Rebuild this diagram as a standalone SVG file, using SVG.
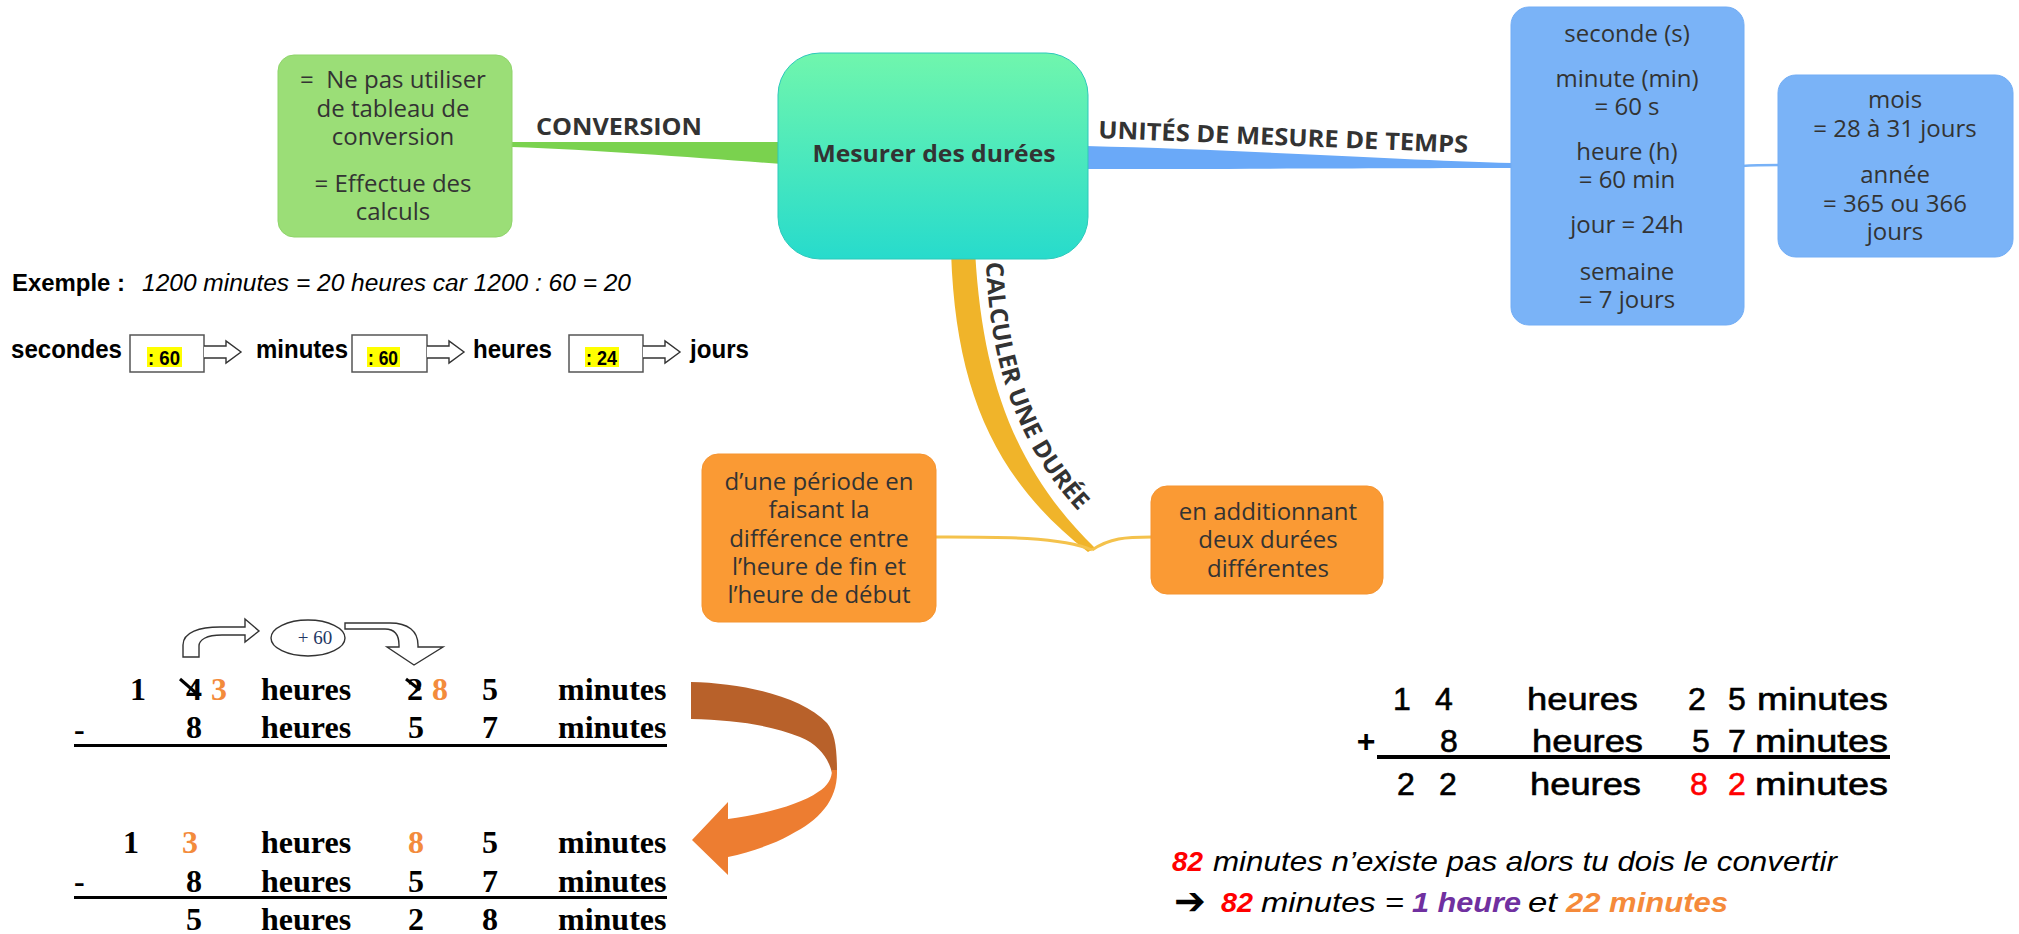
<svg xmlns="http://www.w3.org/2000/svg" width="2019" height="934" viewBox="0 0 2019 934">
<defs>
<linearGradient id="gCentral" x1="0" y1="0" x2="0" y2="1">
<stop offset="0" stop-color="#70f6ad"/>
<stop offset="1" stop-color="#27dbcc"/>
</linearGradient>
<style>
.node{font-family:"Open Sans","DejaVu Sans",sans-serif;font-size:24px;fill:#333;text-anchor:middle}
.lbl{font-family:"Open Sans","DejaVu Sans",sans-serif;font-weight:bold;fill:#333}
.ar{font-family:"Liberation Sans",Arial,sans-serif}
.arb{font-family:"Liberation Sans",Arial,sans-serif;font-weight:bold}
.add{stroke:#000;stroke-width:0.6}
.add.red{stroke:#ff0000}
.tm{font-family:"Liberation Serif","Times New Roman",serif;font-weight:bold;font-size:32px}
.mid{text-anchor:middle}
.or{fill:#f38b3c}
.red{fill:#ff0000}
.pur{fill:#7030a0}
.ora{fill:#f58a3a}
.box{fill:#fff;stroke:#555;stroke-width:1.5}
.hl{fill:#ffff00}
.outl{fill:#fff;stroke:#333;stroke-width:1.4}
.it{font-family:"Liberation Sans",Arial,sans-serif;font-style:italic;font-size:28px}
</style>
</defs>
<rect width="2019" height="934" fill="#fff"/>

<g id="connectors">
<path d="M512,142 C600,142 700,142 782,142 L782,164 C700,158 600,150 512,147 Z" fill="#7ad24e"/>
<path d="M1086,146 C1250,150 1400,160 1512,163 L1512,168 C1400,168 1250,169 1086,169 Z" fill="#6aa9f8"/>
<path d="M1742,166 C1755,165 1765,165 1780,165" fill="none" stroke="#78b2f7" stroke-width="2.5"/>
<path d="M951,250 C955,390 995,480 1088,552 L1095,548 C1015,470 982,380 975,250 Z" fill="#f0b42a"/>
<path d="M1092,550 C1060,536 990,537 934,537" fill="none" stroke="#f4c24c" stroke-width="3"/>
<path d="M1092,550 C1110,538 1125,537 1152,537" fill="none" stroke="#f4c24c" stroke-width="3"/>
<text class="lbl" x="536" y="135" font-size="24" textLength="166" lengthAdjust="spacingAndGlyphs">CONVERSION</text>
<text class="lbl" x="1098" y="138" font-size="24" transform="rotate(2.3 1098 138)" textLength="370" lengthAdjust="spacingAndGlyphs">UNITÉS DE MESURE DE TEMPS</text>
<path id="pCalc" d="M986,262 C990,370 1020,450 1082,515" fill="none"/>
<text class="lbl" font-size="24"><textPath href="#pCalc" textLength="272" lengthAdjust="spacingAndGlyphs">CALCULER UNE DURÉE</textPath></text>
</g>

<g id="n-central">
<rect x="778" y="53" width="310" height="206" rx="42" fill="url(#gCentral)" stroke="#2cc9bb" stroke-width="1"/>
<text class="node" x="934" y="162" font-weight="bold" textLength="243" lengthAdjust="spacingAndGlyphs">Mesurer des durées</text>
</g>

<g id="n-conversion">
<rect x="278" y="55" width="234" height="182" rx="16" fill="#9bde77" stroke="#8fd46b" stroke-width="1"/>
<text class="node" x="393" y="88">=&#160; Ne pas utiliser</text>
<text class="node" x="393" y="117">de tableau de</text>
<text class="node" x="393" y="145">conversion</text>
<text class="node" x="393" y="192">= Effectue des</text>
<text class="node" x="393" y="220">calculs</text>
</g>

<g id="n-unites">
<rect x="1511" y="7" width="233" height="318" rx="18" fill="#7ab3f7" stroke="#72adf5" stroke-width="1"/>
<text class="node" x="1627" y="42">seconde (s)</text>
<text class="node" x="1627" y="87">minute (min)</text>
<text class="node" x="1627" y="115">= 60 s</text>
<text class="node" x="1627" y="160">heure (h)</text>
<text class="node" x="1627" y="188">= 60 min</text>
<text class="node" x="1627" y="233">jour = 24h</text>
<text class="node" x="1627" y="280">semaine</text>
<text class="node" x="1627" y="308">= 7 jours</text>
</g>

<g id="n-mois">
<rect x="1778" y="75" width="235" height="182" rx="18" fill="#7ab3f7" stroke="#72adf5" stroke-width="1"/>
<text class="node" x="1895" y="108">mois</text>
<text class="node" x="1895" y="137">= 28 à 31 jours</text>
<text class="node" x="1895" y="183">année</text>
<text class="node" x="1895" y="212">= 365 ou 366</text>
<text class="node" x="1895" y="240">jours</text>
</g>

<g id="n-periode">
<rect x="702" y="454" width="234" height="168" rx="16" fill="#fa9a34" stroke="#f59430" stroke-width="1"/>
<text class="node" x="819" y="490">d’une période en</text>
<text class="node" x="819" y="518">faisant la</text>
<text class="node" x="819" y="547">différence entre</text>
<text class="node" x="819" y="575">l’heure de fin et</text>
<text class="node" x="819" y="603">l’heure de début</text>
</g>

<g id="n-addition">
<rect x="1151" y="486" width="232" height="108" rx="16" fill="#fa9a34" stroke="#f59430" stroke-width="1"/>
<text class="node" x="1268" y="520">en additionnant</text>
<text class="node" x="1268" y="548">deux durées</text>
<text class="node" x="1268" y="577">différentes</text>
</g>

<g id="exemple">
<text class="arb" x="12" y="291" font-size="23" textLength="113" lengthAdjust="spacingAndGlyphs">Exemple :</text>
<text class="ar" x="142" y="291" font-size="23" font-style="italic" textLength="489" lengthAdjust="spacingAndGlyphs">1200 minutes = 20 heures car 1200 : 60 = 20</text>
</g>

<g id="chaine">
<text class="arb" x="11" y="358" font-size="26" textLength="111" lengthAdjust="spacingAndGlyphs">secondes</text>
<rect class="box" x="130" y="335" width="74" height="37"/>
<path class="outl" d="M204,346 H226 V341 L241,352 L226,363 V358 H204"/>
<rect class="hl" x="147" y="347" width="35" height="20"/>
<text class="arb" x="148" y="365" font-size="21" textLength="32" lengthAdjust="spacingAndGlyphs">: 60</text>
<text class="arb" x="256" y="358" font-size="26" textLength="92" lengthAdjust="spacingAndGlyphs">minutes</text>
<rect class="box" x="352" y="335" width="75" height="37"/>
<path class="outl" d="M427,346 H449 V341 L464,352 L449,363 V358 H427"/>
<rect class="hl" x="367" y="347" width="33" height="20"/>
<text class="arb" x="368" y="365" font-size="21" textLength="30" lengthAdjust="spacingAndGlyphs">: 60</text>
<text class="arb" x="473" y="358" font-size="26" textLength="79" lengthAdjust="spacingAndGlyphs">heures</text>
<rect class="box" x="569" y="335" width="74" height="37"/>
<path class="outl" d="M643,346 H665 V341 L680,352 L665,363 V358 H643"/>
<rect class="hl" x="585" y="347" width="34" height="20"/>
<text class="arb" x="586" y="365" font-size="21" textLength="31" lengthAdjust="spacingAndGlyphs">: 24</text>
<text class="arb" x="690" y="358" font-size="26" textLength="59" lengthAdjust="spacingAndGlyphs">jours</text>
</g>

<g id="soustraction">
<path class="outl" d="M183,657 L183,645 C183,632 200,627 220,627 L245,627 L245,619 L259,631 L245,642 L245,635 L222,635 C206,635 199,640 199,646 L199,657 Z"/>
<ellipse cx="308" cy="638" rx="37" ry="18" fill="#fff" stroke="#333" stroke-width="1.4"/>
<text x="315" y="644" font-family="Liberation Serif,serif" font-size="19" fill="#1f3864" text-anchor="middle">+ 60</text>
<path class="outl" d="M345,623 L390,623 C408,623 418,631 418,645 L418,647 L443,647 L414,665 L387,647 L399,647 L399,645 C399,634 394,629 385,629 L345,629 Z"/>

<text class="tm mid" x="138" y="700">1</text>
<text class="tm mid" x="194" y="700">4</text>
<line x1="180" y1="679" x2="196" y2="693" stroke="#000" stroke-width="3"/>
<text class="tm mid or" x="219" y="700">3</text>
<text class="tm" x="261" y="700">heures</text>
<text class="tm mid" x="415" y="700">2</text>
<line x1="406" y1="679" x2="420" y2="690" stroke="#000" stroke-width="3"/>
<text class="tm mid or" x="440" y="700">8</text>
<text class="tm mid" x="490" y="700">5</text>
<text class="tm" x="558" y="700">minutes</text>

<text class="tm" x="74" y="740">-</text>
<text class="tm mid" x="194" y="738">8</text>
<text class="tm" x="261" y="738">heures</text>
<text class="tm mid" x="416" y="738">5</text>
<text class="tm mid" x="490" y="738">7</text>
<text class="tm" x="558" y="738">minutes</text>
<rect x="74" y="744" width="593" height="3" fill="#000"/>

<text class="tm mid" x="131" y="853">1</text>
<text class="tm mid or" x="190" y="853">3</text>
<text class="tm" x="261" y="853">heures</text>
<text class="tm mid or" x="416" y="853">8</text>
<text class="tm mid" x="490" y="853">5</text>
<text class="tm" x="558" y="853">minutes</text>

<text class="tm" x="74" y="892">-</text>
<text class="tm mid" x="194" y="892">8</text>
<text class="tm" x="261" y="892">heures</text>
<text class="tm mid" x="416" y="892">5</text>
<text class="tm mid" x="490" y="892">7</text>
<text class="tm" x="558" y="892">minutes</text>
<rect x="74" y="896" width="593" height="3" fill="#000"/>

<text class="tm mid" x="194" y="930">5</text>
<text class="tm" x="261" y="930">heures</text>
<text class="tm mid" x="416" y="930">2</text>
<text class="tm mid" x="490" y="930">8</text>
<text class="tm" x="558" y="930">minutes</text>

<path d="M691,682 C740,683 800,695 827,723 C835,733 837,748 837,772 L832,773 C829,760 820,745 800,737 C770,725 735,720 691,719 Z" fill="#b8612a"/>
<path d="M837,770 C838,800 820,820 790,835 C772,845 750,852 728,857 L728,875 L692,840 L728,802 L728,819 C760,815 800,805 818,792 C828,786 832,778 832,770 Z" fill="#ed7d31"/>
</g>

<g id="addition">
<text class="ar add mid" x="1402" y="710" font-size="32">1</text>
<text class="ar add mid" x="1444" y="710" font-size="32">4</text>
<text class="ar add" x="1527" y="710" font-size="32" textLength="111" lengthAdjust="spacingAndGlyphs">heures</text>
<text class="ar add mid" x="1697" y="710" font-size="32">2</text>
<text class="ar add mid" x="1737" y="710" font-size="32">5</text>
<text class="ar add" x="1757" y="710" font-size="32" textLength="131" lengthAdjust="spacingAndGlyphs">minutes</text>

<text class="arb mid" x="1366" y="752" font-size="32">+</text>
<text class="ar add mid" x="1449" y="752" font-size="32">8</text>
<text class="ar add" x="1532" y="752" font-size="32" textLength="111" lengthAdjust="spacingAndGlyphs">heures</text>
<text class="ar add mid" x="1701" y="752" font-size="32">5</text>
<text class="ar add mid" x="1737" y="752" font-size="32">7</text>
<text class="ar add" x="1755" y="752" font-size="32" textLength="133" lengthAdjust="spacingAndGlyphs">minutes</text>
<rect x="1377" y="755" width="513" height="4" fill="#000"/>

<text class="ar add mid" x="1406" y="795" font-size="32">2</text>
<text class="ar add mid" x="1448" y="795" font-size="32">2</text>
<text class="ar add" x="1530" y="795" font-size="32" textLength="111" lengthAdjust="spacingAndGlyphs">heures</text>
<text class="ar add mid red" x="1699" y="795" font-size="32">8</text>
<text class="ar add mid red" x="1737" y="795" font-size="32">2</text>
<text class="ar add" x="1755" y="795" font-size="32" textLength="133" lengthAdjust="spacingAndGlyphs">minutes</text>

<text class="it red" x="1172" y="871" font-weight="bold" textLength="31" lengthAdjust="spacingAndGlyphs">82</text>
<text class="it" x="1213" y="871" textLength="624" lengthAdjust="spacingAndGlyphs">minutes n’existe pas alors tu dois le convertir</text>
<text x="1174" y="914" font-family="DejaVu Sans,sans-serif" font-size="38" font-weight="bold">➔</text>
<text class="it red" x="1221" y="912" font-weight="bold" textLength="32" lengthAdjust="spacingAndGlyphs">82</text>
<text class="it" x="1261" y="912" textLength="143" lengthAdjust="spacingAndGlyphs">minutes =</text>
<text class="it pur" x="1412" y="912" font-weight="bold" textLength="109" lengthAdjust="spacingAndGlyphs">1 heure</text>
<text class="it" x="1528" y="912" textLength="29" lengthAdjust="spacingAndGlyphs">et</text>
<text class="it ora" x="1566" y="912" font-weight="bold" textLength="162" lengthAdjust="spacingAndGlyphs">22 minutes</text>
</g>
</svg>
